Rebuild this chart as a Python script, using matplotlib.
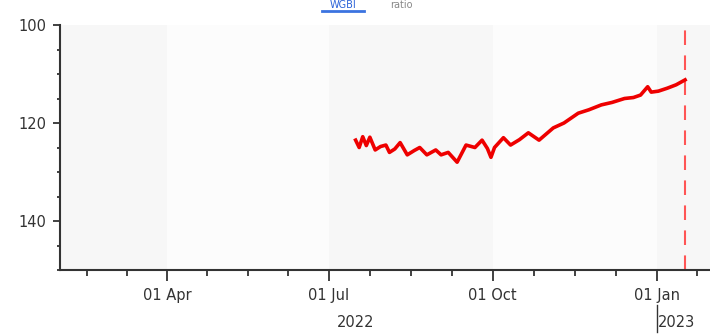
import pandas as pd
import numpy as np
import matplotlib.pyplot as plt
import matplotlib.dates as mdates
from matplotlib.lines import Line2D

# series (date, value)
dates = ['2022-07-16', '2022-07-18', '2022-07-20', '2022-07-22', '2022-07-24', '2022-07-27',
         '2022-07-30', '2022-08-02', '2022-08-04', '2022-08-07', '2022-08-10', '2022-08-14',
         '2022-08-18', '2022-08-21', '2022-08-25', '2022-08-30', '2022-09-02', '2022-09-06',
         '2022-09-11', '2022-09-16', '2022-09-21', '2022-09-25', '2022-09-28', '2022-09-30',
         '2022-10-02', '2022-10-07', '2022-10-11', '2022-10-16', '2022-10-21', '2022-10-27',
         '2022-11-04', '2022-11-10', '2022-11-14', '2022-11-18', '2022-11-24', '2022-12-01',
         '2022-12-07', '2022-12-14', '2022-12-19', '2022-12-23', '2022-12-27', '2022-12-29',
         '2023-01-02', '2023-01-07', '2023-01-12', '2023-01-17']
values = [123.5, 125.0, 122.8, 124.6, 122.9, 125.5,
          124.8, 124.5, 126.0, 125.3, 124.0, 126.5,
          125.6, 125.0, 126.5, 125.5, 126.5, 126.0,
          128.0, 124.5, 125.0, 123.5, 125.2, 127.0,
          125.0, 123.0, 124.5, 123.4, 122.0, 123.5,
          121.0, 120.0, 119.0, 118.0, 117.3, 116.3,
          115.8, 115.0, 114.8, 114.3, 112.6, 113.7,
          113.5, 112.9, 112.2, 111.2]
marker_date = '2023-01-17'

quarter_starts = ['2022-01-01', '2022-04-01', '2022-07-01', '2022-10-01', '2023-01-01', '2023-04-01']
x_start, x_end = '2022-01-31', '2023-01-31'

dates = pd.to_datetime(dates)
qs = pd.to_datetime(quarter_starts)
x0, x1 = pd.Timestamp(x_start), pd.Timestamp(x_end)

fig = plt.figure(figsize=(7.1, 3.34), dpi=100)
ax = fig.add_axes([60 / 710, 64 / 334, 650 / 710, 245 / 334])

# alternating quarter bands
for i in range(len(qs) - 1):
    ax.axvspan(qs[i], qs[i + 1], color='#f7f7f7' if i % 2 == 0 else '#fcfcfc', lw=0, zorder=0)

ax.plot(dates, values, color='#ee0000', lw=2.6, zorder=3)
ax.axvline(pd.Timestamp(marker_date), color='#ff5555', lw=1.5, dashes=(7, 5), zorder=2)

ax.set_xlim(x0, x1)
ax.set_ylim(150, 100)

# ticks
ax.set_yticks([100, 120, 140])
ax.set_yticks(np.arange(100, 151, 5), minor=True)
major = [q for q in qs if x0 <= q <= x1]
minor = []
for i in range(len(qs) - 1):
    step = (qs[i + 1] - qs[i]) / 4
    for k in range(1, 4):
        minor.append(qs[i] + step * k)
minor = [m for m in minor if x0 <= m <= x1]
ax.set_xticks(major)
ax.set_xticks(minor, minor=True)
ax.xaxis.set_major_formatter(mdates.DateFormatter('%d %b'))

for s in ['top', 'right']:
    ax.spines[s].set_visible(False)
for s in ['left', 'bottom']:
    ax.spines[s].set_color('#333333')
    ax.spines[s].set_linewidth(1.5)
ax.tick_params(which='both', color='#333333', width=1.3, labelsize=10.5, labelcolor='#333333')
ax.tick_params(axis='y', which='major', length=5, pad=5)
ax.tick_params(axis='y', which='minor', length=2.5)
ax.tick_params(axis='x', which='major', length=8, pad=5)
ax.tick_params(axis='x', which='minor', length=4.5)

# year labels under the date ticks
trans = ax.get_xaxis_transform()
ax.text(pd.Timestamp('2022-07-16'), -0.215, '2022', transform=trans, ha='center', va='center',
        fontsize=10.5, color='#333333')
ax.text(pd.Timestamp('2023-01-02'), -0.215, '2023', transform=trans, ha='left', va='center',
        fontsize=10.5, color='#333333')
ax.add_line(Line2D([pd.Timestamp('2023-01-01')] * 2, [-0.143, -0.255], transform=trans,
                   color='#333333', lw=1, clip_on=False))

# small title at the very top
fig.text(343 / 710, 1.0, 'WGBI', color='#2a62d8', ha='center', va='top', fontsize=7)
fig.text(390 / 710, 1.0, 'ratio', color='#888888', ha='left', va='top', fontsize=7)
fig.add_artist(Line2D([322 / 710, 364 / 710], [0.968, 0.968], color='#3b73e0', lw=2))

fig.savefig('out.png', dpi=100)
